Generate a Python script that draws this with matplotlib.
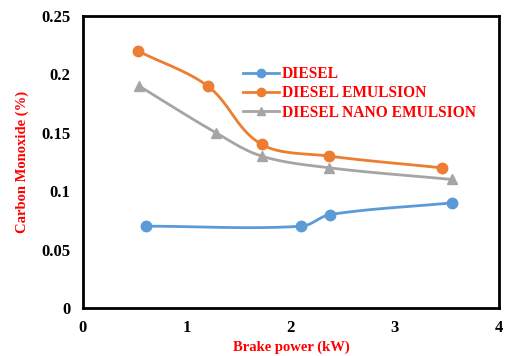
import numpy as np
import matplotlib; matplotlib.use("Agg")
import matplotlib.pyplot as plt

plt.rcParams.update({"font.family": "Liberation Serif", "font.weight": "bold",
                     "axes.labelweight": "bold"})

x_diesel = [0.61, 2.1, 2.38, 3.55]
y_diesel = [0.07, 0.07, 0.08, 0.09]
x_emul = [0.53, 1.2, 1.72, 2.37, 3.45]
y_emul = [0.22, 0.19, 0.14, 0.13, 0.12]
x_nano = [0.54, 1.28, 1.72, 2.37, 3.55]
y_nano = [0.19, 0.15, 0.13, 0.12, 0.11]

BLUE, ORANGE, GRAY = "#5B9BD5", "#ED7D31", "#A5A5A5"
XMAX, YMAX = 4, 0.25


def smooth(x, y, n=30):
    # smoothed line like Excel: bezier pieces, tangent length tied to chord
    p = np.column_stack([np.array(x) / XMAX, np.array(y) / YMAX])
    out = []
    for i in range(len(p) - 1):
        a, b = p[i], p[i + 1]
        L = np.linalg.norm(b - a)
        ta = b - (p[i - 1] if i > 0 else a)
        tb = (p[i + 2] if i + 2 < len(p) else b) - a
        c1 = a + ta / np.linalg.norm(ta) * L / 3
        c2 = b - tb / np.linalg.norm(tb) * L / 3
        t = np.linspace(0, 1, n)[:, None]
        out.append((1 - t) ** 3 * a + 3 * (1 - t) ** 2 * t * c1
                   + 3 * (1 - t) * t ** 2 * c2 + t ** 3 * b)
    s = np.vstack(out)
    return s[:, 0] * XMAX, s[:, 1] * YMAX


fig = plt.figure(figsize=(5.09, 3.56), dpi=100)
ax = fig.add_axes([0.163, 0.135, 0.817, 0.82])

for xs, ys, c, m, lbl in [
    (x_diesel, y_diesel, BLUE, "o", "DIESEL"),
    (x_emul, y_emul, ORANGE, "o", "DIESEL EMULSION"),
    (x_nano, y_nano, GRAY, "^", "DIESEL NANO EMULSION"),
]:
    sx, sy = smooth(xs, ys)
    ax.plot(sx, sy, color=c, lw=2, zorder=2)
    ax.plot(xs, ys, ls="none", marker=m, ms=7.5, color=c, zorder=3)
    ax.plot([], [], color=c, lw=2, marker=m, ms=6, label=lbl)

ax.set_xlim(0, XMAX)
ax.set_ylim(0, YMAX)
ax.set_xticks([0, 1, 2, 3, 4])
ax.set_yticks([0, 0.05, 0.1, 0.15, 0.2, 0.25])
ax.set_yticklabels(["0", "0.05", "0.1", "0.15", "0.2", "0.25"])
ax.tick_params(length=0, labelsize=12, pad=9)
for s in ax.spines.values():
    s.set_linewidth(2)
ax.set_xlabel("Brake power (kW)", color="red", fontsize=10.5, labelpad=3)
ax.set_ylabel("Carbon Monoxide (%)", color="red", fontsize=10.5, labelpad=9)

leg = ax.legend(loc="upper left", bbox_to_anchor=(0.37, 0.85), frameon=False,
                fontsize=11.2, handlelength=2.3, handletextpad=0.2,
                labelspacing=0.22, borderaxespad=0)
for t in leg.get_texts():
    t.set_color("red")

fig.savefig("out.png", dpi=100, facecolor="white")
